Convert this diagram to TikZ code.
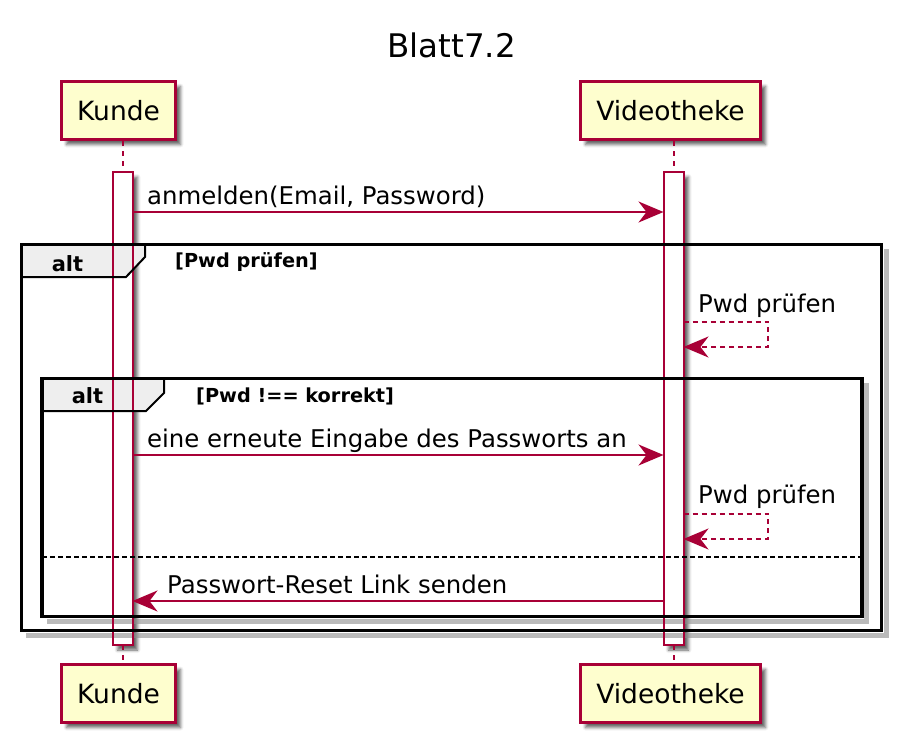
\documentclass[tikz,border=0pt]{standalone}
\usepackage{fontspec}
\setmainfont{DejaVu Sans}
\usetikzlibrary{arrows.meta,shadows.blur}
\definecolor{pcrim}{HTML}{A80036}
\definecolor{pfill}{HTML}{FEFECE}
\definecolor{tabgray}{HTML}{EEEEEE}
\begin{document}
\begin{tikzpicture}[x=1pt,y=-1pt,
  pshadow/.style={blur shadow={shadow xshift=5pt,shadow yshift=-5pt,shadow blur radius=3pt,shadow opacity=60}},
  part/.style={draw=pcrim,line width=3pt,fill=pfill,minimum height=58pt,inner sep=0pt,
    font=\fontsize{26.5pt}{30pt}\selectfont,pshadow},
  actbar/.style={fill=white,minimum width=20pt,minimum height=473pt,inner sep=0pt,outer sep=0pt,pshadow},
  actline/.style={draw=pcrim,line width=2pt},
  lifeline/.style={draw=pcrim,line width=2pt,dash pattern=on 5pt off 5pt},
  msg/.style={draw=pcrim,line width=2pt,-{Stealth[length=25pt,width=21pt,inset=8pt]}},
  selfmsg/.style={msg,dash pattern=on 5pt off 4pt},
  msgtext/.style={anchor=base west,inner sep=0pt,font=\fontsize{24.4pt}{28pt}\selectfont},
  altlbl/.style={anchor=base,inner sep=0pt,font=\fontsize{21pt}{24pt}\selectfont\bfseries},
  guard/.style={anchor=base west,inner sep=0pt,font=\fontsize{19.3pt}{22pt}\selectfont\bfseries},
  frameline/.style={draw=black,line width=3.5pt},
  tabline/.style={draw=black,line width=2pt,fill=tabgray},
  fshadow/.style={draw=black!45,line width=5pt,opacity=0.6},
  sepline/.style={draw=black,line width=2pt,dash pattern=on 5pt off 3pt}]
\useasboundingbox (0,0) rectangle (908,750);

% title
\node[anchor=base,inner sep=0pt,font=\fontsize{32.5pt}{36pt}\selectfont] (title) at (451.5,57) {Blatt7.2};

% participants
\node[part,minimum width=114pt] (k1) at (118.5,110.5) {Kunde};
\node[part,minimum width=180pt] (v1) at (670.5,110.5) {Videotheke};
\node[part,minimum width=114pt] (k2) at (118.5,693.5) {Kunde};
\node[part,minimum width=180pt] (v2) at (670.5,693.5) {Videotheke};

% activation bars (fill)
\node[actbar] (ka) at (122.5,408.5) {};
\node[actbar] (va) at (673.5,408.5) {};

% lifelines
\draw[lifeline] (ka.north |- k1.south) -- (ka.north);
\draw[lifeline] (ka.south) -- (ka.south |- k2.north);
\draw[lifeline] (va.north |- v1.south) -- (va.north);
\draw[lifeline] (va.south) -- (va.south |- v2.north);

% frame shadows
\draw[fshadow] (26,635) -- (886,635) -- (886,249);
\draw[fshadow] (47,621) -- (866.5,621) -- (866.5,383);

% tabs fill
\fill[tabgray] (21.5,244.5) -- (145,244.5) -- (145,257) -- (126,277) -- (21.5,277) -- cycle;
\fill[tabgray] (42,378.5) -- (164,378.5) -- (164,393) -- (146,411) -- (42,411) -- cycle;

% activation bar outlines
\draw[actline] (ka.north west) rectangle (ka.south east);
\draw[actline] (va.north west) rectangle (va.south east);

% outer alt frame
\draw[frameline] (21.5,244.5) rectangle (881.5,630.5);
\draw[tabline,fill=none] (145,244.5) -- (145,257) -- (126,277) -- (21.5,277);
\node[altlbl] (alt1) at (67.5,271) {alt};
\node[guard] (g1) at (175,267) {[Pwd prüfen]};

% inner alt frame
\draw[frameline] (42,378.5) rectangle (862,616.5);
\draw[tabline,fill=none] (164,378.5) -- (164,393) -- (146,411) -- (42,411);
\node[altlbl] (alt2) at (87.5,403) {alt};
\node[guard] (g2) at (196,402) {[Pwd !== korrekt]};

% else separator
\coordinate (sepL) at (42,557);
\coordinate (sepR) at (862,557);
\draw[sepline] (sepL) -- (sepR);

% message 1
\coordinate (m1a) at (ka.east |- 0,212);
\coordinate (m1b) at (va.west |- 0,212);
\draw[msg] (m1a) -- (m1b);
\node[msgtext] (t1) at (147,204) {anmelden(Email, Password)};

% self message 1
\coordinate (s1a) at (va.east |- 0,321.5);
\coordinate (s1b) at (768,321.5);
\coordinate (s1c) at (768,347);
\coordinate (s1d) at (va.east |- 0,347);
\draw[selfmsg] (s1a) -- (s1b) -- (s1c) -- (s1d);
\node[msgtext] (t2) at (698,312) {Pwd prüfen};

% message 2
\coordinate (m2a) at (ka.east |- 0,455);
\coordinate (m2b) at (va.west |- 0,455);
\draw[msg] (m2a) -- (m2b);
\node[msgtext] (t3) at (147,447) {eine erneute Eingabe des Passworts an};

% self message 2
\coordinate (s2a) at (va.east |- 0,513.5);
\coordinate (s2b) at (768,513.5);
\coordinate (s2c) at (768,539);
\coordinate (s2d) at (va.east |- 0,539);
\draw[selfmsg] (s2a) -- (s2b) -- (s2c) -- (s2d);
\node[msgtext] (t4) at (698,503) {Pwd prüfen};

% message 3
\coordinate (m3a) at (va.west |- 0,601);
\coordinate (m3b) at (ka.east |- 0,601);
\draw[msg] (m3a) -- (m3b);
\node[msgtext] (t5) at (167,593) {Passwort-Reset Link senden};
\end{tikzpicture}
\end{document}
